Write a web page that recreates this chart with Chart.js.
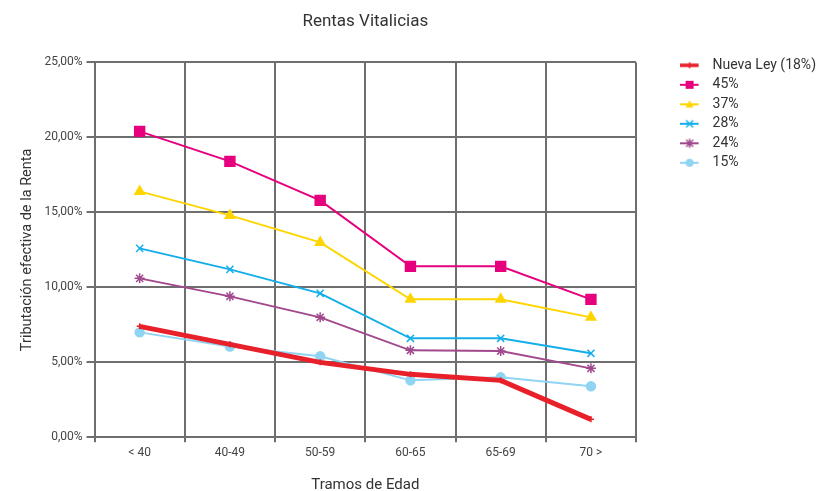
<!DOCTYPE html>
<html>
<head>
<meta charset="utf-8">
<script src="https://cdn.jsdelivr.net/npm/chart.js@4/dist/chart.umd.min.js"></script>
<style>
  html, body { margin: 0; padding: 0; background: #fff; }
  #wrap { width: 823px; height: 491px; }
</style>
</head>
<body>
<div id="wrap"><canvas id="c"></canvas></div>
<script>
// Age brackets and effective tax rate (%) for each scenario
const categories = ['< 40', '40-49', '50-59', '60-65', '65-69', '70 >'];
const nuevaLey = [7.4, 6.2, 5.0, 4.2, 3.8, 1.2];
const tasa45   = [20.4, 18.4, 15.8, 11.4, 11.4, 9.2];
const tasa37   = [16.4, 14.8, 13.0, 9.2, 9.2, 8.0];
const tasa28   = [12.6, 11.2, 9.6, 6.6, 6.6, 5.6];
const tasa24   = [10.6, 9.4, 8.0, 5.8, 5.75, 4.6];
const tasa15   = [7.0, 6.05, 5.4, 3.8, 4.0, 3.4];
const yTicks   = [0, 5, 10, 15, 20, 25];

const FONT = "Roboto, 'Open Sans', sans-serif";
const GRID = '#6e6e6e';

// small line-with-marker swatch for the legend (line on the left 19px, marker in its middle)
function swatch(color, style, r, lw) {
  const cv = document.createElement('canvas');
  cv.width = 26; cv.height = 14;
  const g = cv.getContext('2d');
  const cx = 10, cy = 7;
  g.strokeStyle = color; g.fillStyle = color; g.lineWidth = lw;
  g.beginPath(); g.moveTo(0, cy); g.lineTo(19, cy); g.stroke();
  g.lineWidth = 1.5;
  g.beginPath();
  if (style === 'rect') { g.fillRect(cx - r, cy - r, 2 * r, 2 * r); }
  else if (style === 'triangle') { g.moveTo(cx, cy - r); g.lineTo(cx + r, cy + r * 0.8); g.lineTo(cx - r, cy + r * 0.8); g.closePath(); g.fill(); }
  else if (style === 'circle') { g.arc(cx, cy, r, 0, Math.PI * 2); g.fill(); }
  else if (style === 'crossRot') { g.moveTo(cx - r, cy - r); g.lineTo(cx + r, cy + r); g.moveTo(cx + r, cy - r); g.lineTo(cx - r, cy + r); g.stroke(); }
  else if (style === 'star') {
    g.moveTo(cx - r, cy - r); g.lineTo(cx + r, cy + r); g.moveTo(cx + r, cy - r); g.lineTo(cx - r, cy + r);
    g.moveTo(cx, cy - r - 1); g.lineTo(cx, cy + r + 1); g.stroke();
  }
  else if (style === 'cross') { g.moveTo(cx, cy - r); g.lineTo(cx, cy + r); g.stroke(); }
  return cv;
}

function series(label, data, color, style, radius, width, legendR) {
  return {
    label, data,
    borderColor: color, backgroundColor: color,
    borderWidth: width,
    pointStyle: style, pointRadius: radius, pointHoverRadius: radius,
    pointBorderWidth: 1.5, pointBackgroundColor: color, pointBorderColor: color,
    tension: 0,
    legendSwatch: swatch(color, style, legendR, Math.min(width, 3.5))
  };
}

const datasets = [
  series('Nueva Ley (18%)', nuevaLey, '#e8202a', 'cross', 3, 5, 3),
  series('45%', tasa45, '#e6007e', 'rect', 7, 2, 4),
  series('37%', tasa37, '#ffd500', 'triangle', 5.5, 2, 4),
  series('28%', tasa28, '#14aeea', 'crossRot', 5, 2, 3.5),
  series('24%', tasa24, '#a1498e', 'star', 5, 2, 3.5),
  series('15%', tasa15, '#8fd4f3', 'circle', 4.5, 2, 4)
];

new Chart(document.getElementById('c'), {
  type: 'line',
  data: { labels: categories, datasets },
  options: {
    responsive: true,
    maintainAspectRatio: false,
    animation: false,
    layout: { padding: { left: 19, right: -3, top: 0, bottom: 0 } },
    plugins: {
      title: {
        display: true,
        text: 'Rentas Vitalicias',
        fullSize: false,
        color: '#333',
        font: { family: FONT, size: 17, weight: 'normal' },
        padding: { top: 12, bottom: 30 }
      },
      legend: {
        position: 'right',
        align: 'start',
        maxWidth: 220,
        title: { display: true, text: '', padding: { top: 0, bottom: 36 }, font: { size: 14 } },
        labels: {
          usePointStyle: true,
          pointStyleWidth: 26,
          padding: 5.5,
          color: '#333',
          font: { family: FONT, size: 14 },
          generateLabels(chart) {
            const base = Chart.defaults.plugins.legend.labels.generateLabels(chart);
            return base.map(l => Object.assign(l, { pointStyle: chart.data.datasets[l.datasetIndex].legendSwatch }));
          }
        }
      },
      tooltip: { enabled: false }
    },
    scales: {
      x: {
        offset: true,
        grid: { offset: true, color: GRID, lineWidth: 2, tickLength: 5, drawTicks: true },
        border: { color: GRID, width: 2 },
        ticks: { color: '#444', font: { family: FONT, size: 12 }, padding: 3 },
        title: { display: true, text: 'Tramos de Edad', color: '#333', font: { family: FONT, size: 15, lineHeight: 0.75 }, padding: { top: 17, bottom: 0 } }
      },
      y: {
        min: 0, max: 25,
        afterBuildTicks(scale) { scale.ticks = yTicks.map(v => ({ value: v })); },
        grid: { color: GRID, lineWidth: 2, tickLength: 8 },
        border: { color: GRID, width: 2 },
        ticks: {
          color: '#444', font: { family: FONT, size: 12 }, padding: 4,
          callback: v => v.toFixed(2).replace('.', ',') + '%'
        },
        title: { display: true, text: 'Tributación efectiva de la Renta', color: '#333', font: { family: FONT, size: 14.5 }, padding: { top: 0, bottom: 4 } }
      },
      gap: {
        position: 'right', display: true,
        grid: { display: false }, border: { display: false }, ticks: { display: false },
        afterFit(scale) { scale.width = 38; }
      }
    }
  }
});
</script>
</body>
</html>
